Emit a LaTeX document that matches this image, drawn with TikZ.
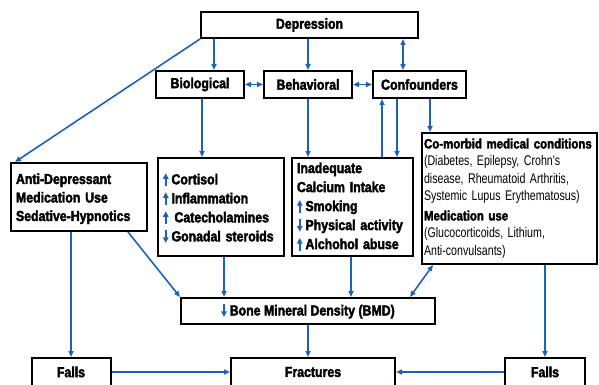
\documentclass[tikz,border=0pt]{standalone}
\usepackage{fontspec}
\setmainfont{Liberation Sans}[FakeStretch=0.85, BoldFeatures={FakeBold=2.5}]
\newfontfamily\lightcond{Liberation Sans}[FakeStretch=0.76]
\usepackage{tikz}
\usetikzlibrary{arrows.meta}

\definecolor{flowblue}{RGB}{28,98,186}
% small blue arrows in the lists
\newcommand{\upmark}{\tikz[baseline=0pt]\draw[flowblue, line width=1.7pt, -{Triangle[length=5.5pt,width=5.5pt]}] (0pt,-1.5pt) -- (0pt,11pt);\hspace{3pt}}
\newcommand{\downmark}{\tikz[baseline=0pt]\draw[flowblue, line width=1.7pt, -{Triangle[length=5.5pt,width=5.5pt]}] (0pt,11pt) -- (0pt,-1.5pt);\hspace{3pt}}
\newcommand{\plainline}[1]{{\lightcond\mdseries\fontsize{14}{17.5}\selectfont #1}}

\begin{document}
\begin{tikzpicture}[x=1pt, y=-1pt,
  box/.style={draw=black, line width=2pt, inner sep=0pt, font=\bfseries\fontsize{14.5}{19}\selectfont},
  link/.style={flowblue, line width=1.6pt, -{Triangle[length=6pt,width=5pt]}},
  twolink/.style={flowblue, line width=1.6pt, {Triangle[length=6pt,width=5pt]}-{Triangle[length=6pt,width=5pt]}}]
\useasboundingbox (0,0) rectangle (599,385);

% top row
\node[box, minimum width=217pt, minimum height=26pt] (depr) at (309.5,25) {Depression};
\node[box, minimum width=88pt, minimum height=27pt] (bio) at (200,84.5) {Biological};
\node[box, minimum width=88pt, minimum height=27pt] (beh) at (308,84.5) {Behavioral};
\node[box, minimum width=93pt, minimum height=27pt] (conf) at (419.5,84.5) {Confounders};

% middle row
\node[box, minimum width=136pt, minimum height=68pt, text width=126pt, align=left, font=\bfseries\fontsize{14.5}{18.5}\selectfont] (anti) at (79,197)
  {\rule{0pt}{14pt}Anti-Depressant\\Medication Use\\Sedative-Hypnotics};
\node[box, minimum width=126pt, minimum height=98pt, text width=116pt, align=left] (bioeff) at (221,207)
  {\rule{0pt}{14pt}\upmark Cortisol\\\upmark Inflammation\\\upmark\hspace{3pt}Catecholamines\\\downmark Gonadal steroids};
\node[box, minimum width=121pt, minimum height=98pt, text width=111pt, align=left] (beheff) at (352.5,207)
  {Inadequate\\Calcium Intake\\\upmark Smoking\\\downmark Physical activity\\\upmark Alchohol abuse};
\node[box, minimum width=175pt, minimum height=131pt, text width=171pt, align=left, font=\bfseries\fontsize{13.5}{17.5}\selectfont] (comorb) at (509.5,198.5)
  {\mbox{Co-morbid medical conditions}\\
   \plainline{(Diabetes, Epilepsy, Crohn's}\\
   \plainline{disease, Rheumatoid Arthritis,}\\
   \plainline{Systemic Lupus Erythematosus)}\\[2pt]
   Medication use\\
   \plainline{(Glucocorticoids, Lithium,}\\
   \plainline{Anti-convulsants)}};

% lower rows
\node[box, minimum width=254pt, minimum height=26pt] (bmd) at (308,311) {\downmark Bone Mineral Density (BMD)};
\node[box, minimum width=79pt, minimum height=28pt] (fallsL) at (71,372) {Falls};
\node[box, minimum width=164pt, minimum height=28pt] (fract) at (313,372) {Fractures};
\node[box, minimum width=80pt, minimum height=28pt] (fallsR) at (545,372) {Falls};

% links from Depression
\draw[link] (214,0 |- depr.south) -- (214,0 |- bio.north);
\draw[link] (depr.south -| beh.north) -- (beh.north);
\draw[twolink] (403,0 |- depr.south) -- (403,0 |- conf.north);
\draw[link] (depr.south west) -- (15,0 |- anti.north);
\draw[twolink] (bio.east) -- (beh.west);
\draw[twolink] (beh.east) -- (conf.west);

% second level
\draw[link] (202,0 |- bio.south) -- (202,0 |- bioeff.north);
\draw[link] (beh.south) -- (beh.south |- beheff.north);
\draw[link] (382,0 |- beheff.north) -- (382,0 |- conf.south);
\draw[link] (397,0 |- conf.south) -- (397,0 |- beheff.north);
\draw[link] (430,0 |- conf.south) -- (430,0 |- comorb.north);

% towards BMD and falls
\draw[link] (fallsL.north |- anti.south) -- (fallsL.north);
\draw[link] (128,0 |- anti.south) -- (bmd.north west);
\draw[link] (224,0 |- bioeff.south) -- (224,0 |- bmd.north);
\draw[link] (351,0 |- beheff.south) -- (351,0 |- bmd.north);
\draw[twolink] (433,0 |- comorb.south) -- (410,0 |- bmd.north);
\draw[link] (fallsR.north |- comorb.south) -- (fallsR.north);

% fractures
\draw[link] (bmd.south) -- (bmd.south |- fract.north);
\draw[link] (fallsL.east) -- (fallsL.east -| fract.west);
\draw[link] (fallsR.west) -- (fallsR.west -| fract.east);
\end{tikzpicture}
\end{document}
